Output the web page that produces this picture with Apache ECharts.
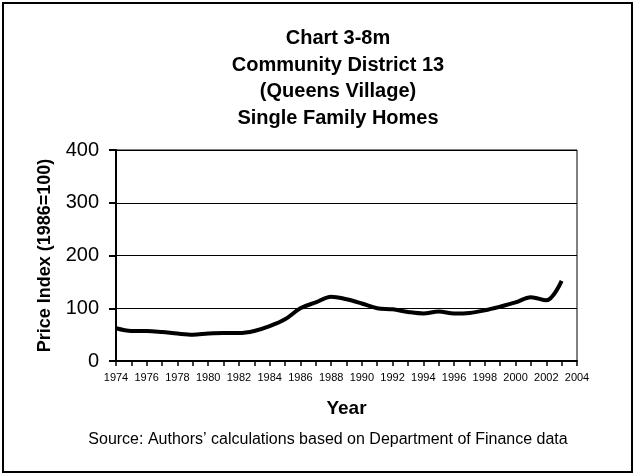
<!DOCTYPE html>
<html>
<head>
<meta charset="utf-8">
<script src="https://cdn.jsdelivr.net/npm/echarts@6/dist/echarts.min.js"></script>
<style>
  html, body { margin: 0; padding: 0; background: #fff; }
  #chart { width: 636px; height: 476px; }
</style>
</head>
<body>
<div id="chart"></div>
<script>
// chart data
var years = [1974, 1975, 1976, 1977, 1978, 1979, 1980, 1981, 1982, 1983,
             1984, 1985, 1986, 1987, 1988, 1989, 1990, 1991, 1992, 1993,
             1994, 1995, 1996, 1997, 1998, 1999, 2000, 2001, 2002, 2003];
var priceIndex = [62, 57, 57, 55, 52, 50, 52, 53, 53, 57,
                  66, 79, 100, 111, 122, 117, 109, 100, 98, 93,
                  90, 94, 90, 91, 96, 103, 111, 121, 115, 152];
var titleLines = ['Chart 3-8m', 'Community District 13', '(Queens Village)', 'Single Family Homes'];
var sourceNote = 'Source: Authors\u2019 calculations based on Department of Finance data';

var chart = echarts.init(document.getElementById('chart'));

var seriesData = years.map(function (y, i) { return [y, priceIndex[i]]; });

chart.setOption({
  backgroundColor: '#fff',
  animation: false,
  title: [{
    text: titleLines.join('\n'),
    left: 333, top: 20, textAlign: 'center',
    textStyle: { fontFamily: 'Liberation Sans, Arial', fontWeight: 'bold', fontSize: 20, lineHeight: 26.7, color: '#000' }
  }, {
    text: sourceNote,
    left: 323, top: 427, textAlign: 'center',
    textStyle: { fontFamily: 'Liberation Sans, Arial', fontWeight: 'normal', fontSize: 16, color: '#000' }
  }],
  grid: { left: 116, right: 59, top: 150, bottom: 115, show: true, borderColor: '#000', borderWidth: 1 },
  xAxis: {
    type: 'value', min: 1974, max: 2004, interval: 2,
    name: 'Year', nameLocation: 'middle', nameGap: 38,
    nameTextStyle: { fontFamily: 'Liberation Sans, Arial', fontWeight: 'bold', fontSize: 19, color: '#000' },
    axisLine: { lineStyle: { color: '#000', width: 2 } },
    axisTick: { length: 5, lineStyle: { color: '#000', width: 1.5 } },
    minorTick: { show: true, splitNumber: 2, length: 5, lineStyle: { color: '#000', width: 1.5 } },
    splitLine: { show: false },
    axisLabel: { margin: 11, fontFamily: 'Liberation Sans Narrow, Arial Narrow, Liberation Sans', fontSize: 11, color: '#000',
                 formatter: function (v) { return String(v); } }
  },
  yAxis: {
    type: 'value', min: 0, max: 400, interval: 100,
    name: 'Price Index (1986=100)', nameLocation: 'middle', nameGap: 62, nameRotate: 90,
    nameTextStyle: { fontFamily: 'Liberation Sans, Arial', fontWeight: 'bold', fontSize: 18, color: '#000' },
    axisLine: { show: true, lineStyle: { color: '#000', width: 2 } },
    axisTick: { show: true, length: 7, lineStyle: { color: '#000', width: 2 } },
    splitLine: { show: true, lineStyle: { color: '#000', width: 1 } },
    axisLabel: { margin: 17, fontFamily: 'Liberation Sans, Arial', fontSize: 20, color: '#000' }
  },
  series: [{
    type: 'line',
    data: seriesData,
    smooth: 0.35,
    showSymbol: false,
    lineStyle: { color: '#000', width: 4 }
  }],
  graphic: [{
    type: 'rect',
    shape: { x: 3, y: 3, width: 629, height: 469 },
    style: { fill: null, stroke: '#000', lineWidth: 2 },
    silent: true
  }]
});
</script>
</body>
</html>
